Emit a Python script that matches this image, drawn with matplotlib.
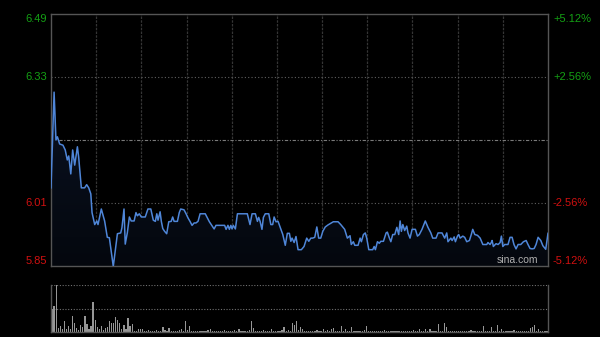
import numpy as np
import matplotlib
matplotlib.use("Agg")
import matplotlib.pyplot as plt

plt.rcParams['font.family'] = ['Liberation Sans', 'DejaVu Sans']

# intraday price, minutes since open
times = [0, 1.5, 2.4, 3.1, 4.2, 5.8, 6.9, 7.9, 8.6, 9.6,
         10.5, 11.5, 12.8, 13.4, 14.7, 16.3, 17.3, 18.3, 19.3, 19.9,
         21.2, 22.2, 22.8, 24.4, 26.0, 27.3, 28.3, 30.2, 32.2, 33.8,
         34.4, 35.4, 36.0, 37.0, 38.0, 38.9, 40.3, 41.2, 41.9, 42.8,
         43.8, 45.7, 47.0, 48.4, 49.6, 50.6, 51.3, 51.9, 52.9, 53.5,
         54.2, 55.1, 56.1, 57.1, 58.3, 59.0, 59.7, 61.3, 62.2, 62.9,
         64.5, 65.5, 66.4, 67.4, 68.4, 69.4, 70.3, 71.3, 72.3, 74.8,
         75.8, 76.8, 77.7, 79.1, 80.0, 84.2, 84.9, 85.8, 86.5, 87.2,
         87.8, 88.4, 89.4, 90.4, 95.2, 96.5, 97.5, 99.1, 100.1, 100.7,
         101.4, 102.3, 103.0, 103.9, 105.6, 106.6, 107.5, 108.2, 109.1, 110.1,
         111.1, 112.4, 113.6, 114.6, 115.6, 116.3, 116.9, 117.9, 118.8, 119.8,
         121.4, 122.7, 124.0, 125.0, 126.0, 126.9, 127.9, 128.9, 129.8, 130.8,
         131.8, 133.0, 134.3, 136.9, 139.2, 140.5, 142.4, 143.7, 145.0, 145.6,
         146.6, 147.3, 148.9, 149.9, 150.5, 151.5, 152.4, 153.1, 154.1, 156.0,
         156.7, 157.3, 158.3, 159.2, 159.9, 161.2, 162.5, 163.1, 164.1, 164.8,
         165.7, 166.7, 167.7, 168.6, 169.3, 169.9, 170.6, 171.5, 172.5, 173.1,
         174.1, 175.1, 176.7, 177.7, 178.6, 179.9, 181.5, 182.8, 184.2, 185.1,
         186.7, 187.7, 189.6, 190.9, 191.9, 192.5, 193.9, 194.5, 195.5, 196.1,
         197.1, 197.7, 198.4, 199.7, 200.6, 201.6, 202.9, 203.8, 204.5, 205.5,
         206.8, 208.1, 209.4, 211.3, 211.9, 212.9, 213.5, 213.9, 214.5, 215.8,
         216.8, 217.8, 218.4, 219.1, 220.0, 221.6, 222.6, 223.6, 224.5, 225.5,
         226.5, 227.8, 229.1, 230.4, 231.3, 232.3, 233.3, 234.3, 235.2, 236.2,
         237.5, 238.5, 239.9, 241.0]
prices = [6.050, 6.290, 6.170, 6.178, 6.160, 6.157, 6.145, 6.120, 6.130, 6.085,
          6.145, 6.107, 6.153, 6.128, 6.050, 6.050, 6.058, 6.050, 6.035, 5.988,
          5.958, 5.967, 5.958, 5.997, 5.967, 5.926, 5.925, 5.853, 5.935, 5.937,
          5.950, 5.997, 5.909, 5.937, 5.977, 5.967, 5.967, 5.988, 5.980, 5.985,
          5.977, 5.977, 5.997, 5.997, 5.969, 5.966, 5.985, 5.969, 5.990, 5.966,
          5.948, 5.941, 5.935, 5.965, 5.966, 5.977, 5.966, 5.966, 5.988, 5.997,
          5.995, 5.985, 5.975, 5.966, 5.956, 5.962, 5.962, 5.966, 5.985, 5.985,
          5.975, 5.965, 5.958, 5.947, 5.956, 5.956, 5.946, 5.956, 5.946, 5.956,
          5.947, 5.956, 5.947, 5.985, 5.985, 5.958, 5.985, 5.985, 5.966, 5.976,
          5.966, 5.946, 5.976, 5.985, 5.985, 5.958, 5.958, 5.977, 5.965, 5.966,
          5.952, 5.933, 5.906, 5.936, 5.936, 5.916, 5.924, 5.913, 5.928, 5.895,
          5.895, 5.903, 5.924, 5.916, 5.924, 5.924, 5.926, 5.952, 5.924, 5.924,
          5.941, 5.952, 5.957, 5.965, 5.965, 5.958, 5.946, 5.924, 5.930, 5.908,
          5.915, 5.906, 5.906, 5.924, 5.915, 5.933, 5.937, 5.924, 5.895, 5.895,
          5.903, 5.895, 5.915, 5.911, 5.916, 5.916, 5.937, 5.939, 5.924, 5.915,
          5.933, 5.933, 5.951, 5.933, 5.967, 5.941, 5.958, 5.943, 5.954, 5.937,
          5.924, 5.946, 5.946, 5.929, 5.933, 5.946, 5.967, 5.951, 5.937, 5.924,
          5.924, 5.937, 5.937, 5.924, 5.937, 5.915, 5.924, 5.918, 5.927, 5.915,
          5.929, 5.933, 5.924, 5.929, 5.926, 5.915, 5.918, 5.933, 5.946, 5.933,
          5.931, 5.924, 5.908, 5.908, 5.913, 5.908, 5.913, 5.918, 5.903, 5.910,
          5.908, 5.913, 5.929, 5.903, 5.908, 5.908, 5.926, 5.926, 5.908, 5.897,
          5.908, 5.908, 5.915, 5.918, 5.908, 5.898, 5.897, 5.898, 5.908, 5.926,
          5.918, 5.905, 5.896, 5.936]

# volume per minute
volumes = [500, 560, 1000, 80, 130, 60, 230, 60, 120, 60,
           330, 200, 80, 50, 150, 100, 350, 170, 60, 130,
           640, 260, 100, 60, 120, 50, 80, 100, 230, 190,
           200, 320, 260, 200, 60, 150, 60, 300, 120, 180,
           30, 30, 60, 60, 60, 30, 30, 50, 30, 20,
           30, 40, 30, 30, 100, 40, 30, 80, 30, 20,
           30, 30, 40, 60, 30, 230, 40, 130, 30, 30,
           20, 30, 30, 20, 30, 30, 40, 60, 30, 20,
           30, 30, 20, 30, 40, 30, 20, 30, 30, 40,
           30, 60, 30, 20, 30, 30, 40, 230, 80, 30,
           30, 20, 30, 50, 30, 30, 20, 60, 30, 30,
           20, 30, 40, 100, 30, 50, 30, 190, 150, 230,
           50, 100, 60, 30, 20, 30, 30, 20, 30, 50,
           30, 20, 60, 30, 50, 30, 60, 80, 30, 20,
           30, 120, 30, 60, 30, 20, 100, 30, 30, 20,
           30, 30, 40, 130, 30, 20, 30, 30, 20, 30,
           30, 20, 40, 30, 20, 30, 30, 20, 30, 30,
           20, 30, 30, 20, 30, 30, 40, 30, 20, 60,
           30, 30, 60, 30, 60, 30, 20, 30, 180, 30,
           30, 200, 100, 30, 20, 30, 30, 20, 30, 30,
           20, 30, 30, 20, 40, 30, 20, 30, 30, 20,
           130, 30, 20, 30, 100, 30, 20, 150, 30, 60,
           30, 20, 30, 30, 20, 50, 30, 30, 20, 30,
           30, 20, 30, 80, 100, 150, 30, 60, 30, 20,
           30, 30]

prev_close = 6.17
pct_levels = [5.12, 2.56, -2.56, -5.12]

green = '#14a014'
red = '#d01010'

fig = plt.figure(figsize=(6, 3.37), dpi=100, facecolor='black')
ax = fig.add_axes([51/600, 1-266/337, 497/600, 252/337], facecolor='black')
axv = fig.add_axes([51/600, 1-332/337, 497/600, 47/337], facecolor='black')

lo = prev_close * (1 - 0.0512)
hi = prev_close * (1 + 0.0512)
ax.set_xlim(0, 241)
ax.set_ylim(lo, hi)

# grid
for i in range(1, 11):
    ax.axvline(i * 241 / 11, color='#353535', lw=0.9, ls=(0, (2, 1)), zorder=1)
for p in [prev_close * 1.0256, prev_close * 0.9744]:
    ax.axhline(p, color='#606060', lw=0.8, ls=(0, (1, 2)), zorder=1)
ax.axhline(prev_close, color='#7a7a7a', lw=0.8, ls=(0, (3, 1.5, 1, 1.5)), zorder=1)

# dark gradient under the line
ax.fill_between(times, prices, lo, color='#0a1222', zorder=2, lw=0)
grad = np.linspace(0, 1, 100).reshape(-1, 1)
img = ax.imshow(grad, extent=[0, 241, lo, max(prices)], aspect='auto', origin='lower',
                cmap=matplotlib.colors.LinearSegmentedColormap.from_list('g', ['#000000', '#000000']),
                alpha=np.linspace(0.6, 0.0, 100).reshape(-1, 1), zorder=2.5)
poly = ax.fill_between(times, prices, lo, color='none', lw=0)
img.set_clip_path(poly.get_paths()[0], transform=ax.transData)
ax.plot(times, prices, color='#4f86d8', lw=1.1, zorder=3)

ax.set_xticks([])
ax.set_yticks([])
for s in ax.spines.values():
    s.set_color('#555555')
    s.set_linewidth(1)

# price and percent labels
for pc in pct_levels:
    price = prev_close * (1 + pc / 100)
    col = green if pc > 0 else red
    va = 'center'
    if pc == 5.12:
        va = 'top'
        y = hi
    elif pc == -5.12:
        va = 'bottom'
        y = lo
    else:
        y = price
    ax.text(-0.008, y, f"{price:.2f}", transform=ax.get_yaxis_transform(),
            ha='right', va=va, color=col, fontsize=8)
    ax.text(1.01, y, f"{pc:+.2f}%", transform=ax.get_yaxis_transform(),
            ha='left', va=va, color=col, fontsize=8)

ax.text(0.98, 0.003, "sina.com", transform=ax.transAxes, ha='right', va='bottom',
        color='#b0b0b0', fontsize=7.5, zorder=5)

# volume
vx = np.arange(len(volumes))
axv.bar(vx, volumes, width=0.6, color='#969696', align='center', zorder=2)
axv.set_xlim(-0.5, 241.5)
axv.set_ylim(0, max(volumes))
for v in [max(volumes), max(volumes) / 2]:
    axv.axhline(v, color='#707070', lw=0.8, ls=(0, (1, 1.5)), zorder=1)
axv.set_xticks([])
axv.set_yticks([])
axv.spines['top'].set_visible(False)
for k in ['left', 'right', 'bottom']:
    axv.spines[k].set_color('#555555')
    axv.spines[k].set_linewidth(1)

fig.savefig("out.png", dpi=100, facecolor='black')
